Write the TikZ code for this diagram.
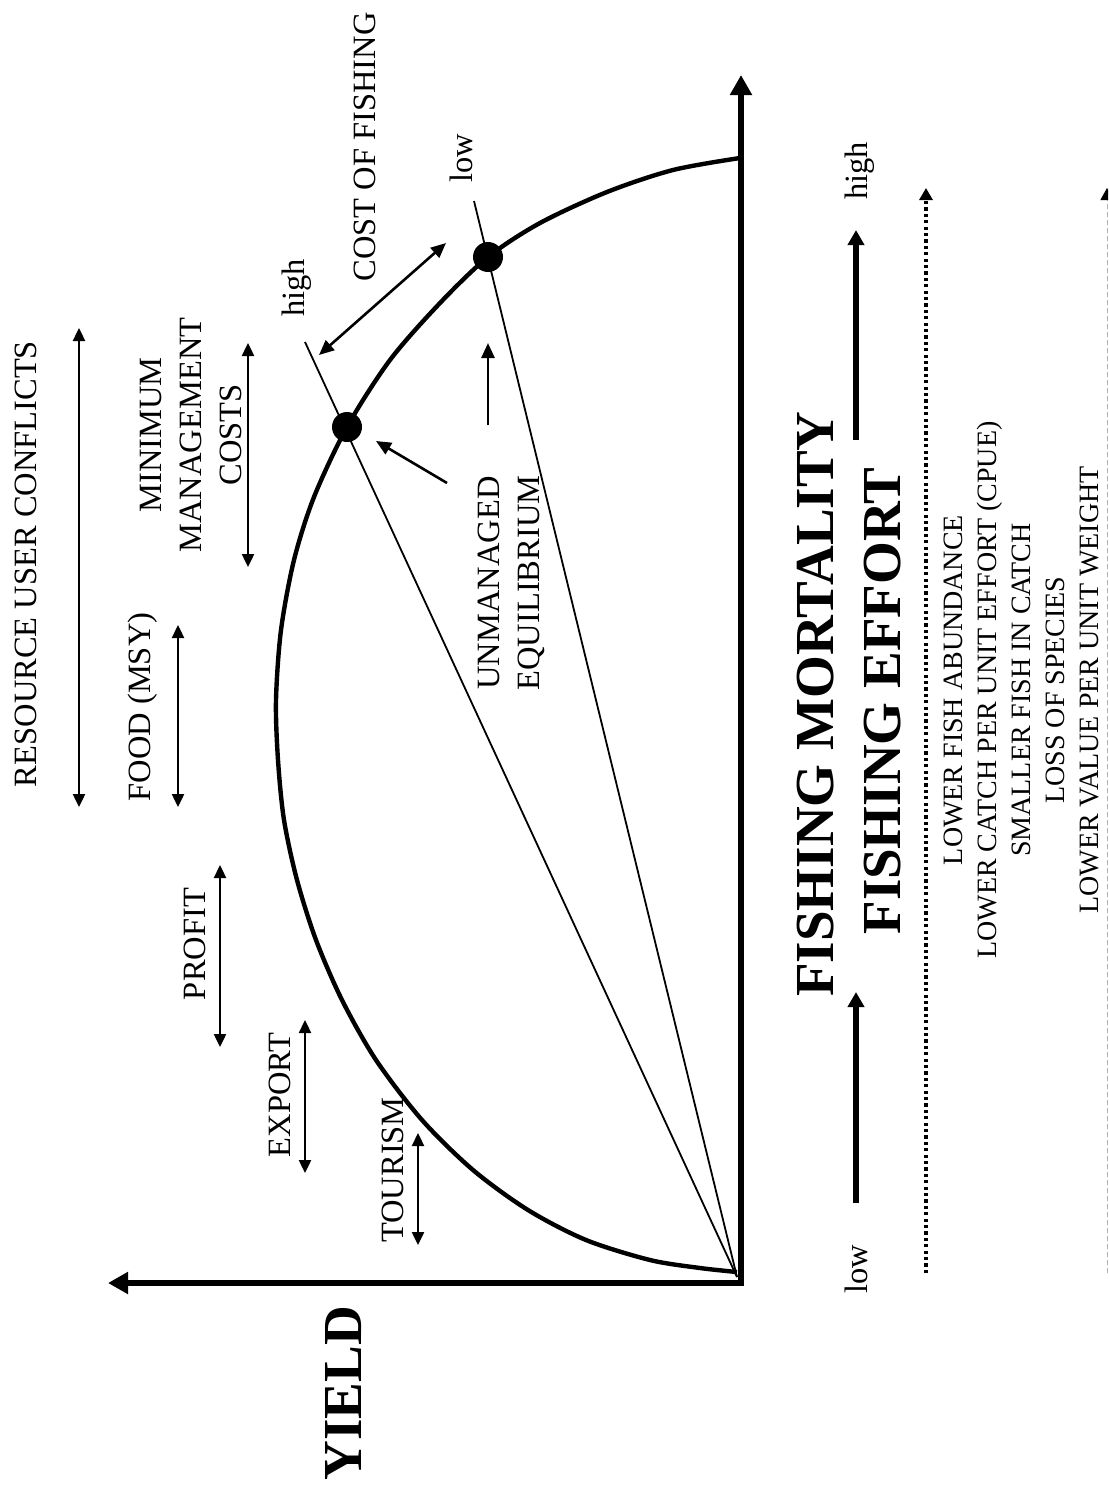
\documentclass[tikz,border=0pt]{standalone}
\usepackage{fontspec}
\setmainfont{Liberation Serif}
\usetikzlibrary{arrows.meta}

\begin{document}
\begin{tikzpicture}[
    x=0.5pt, y=-0.5pt,
    tag/.style={rotate=90, anchor=base, inner sep=0pt, font=\fontsize{16.25}{20}\selectfont},
    headline/.style={rotate=90, anchor=base, inner sep=0pt, font=\fontsize{27.5}{33}\selectfont\bfseries},
    effect/.style={rotate=90, anchor=base, inner sep=0pt, font=\fontsize{14}{17}\selectfont},
    axis/.style={<->, line width=3pt, >={Triangle[length=10pt, width=10.5pt]}},
    span/.style={<->, line width=1.2pt, >={Triangle[length=6.5pt, width=6pt]}},
    pointer/.style={->, line width=1.3pt, >={Triangle[length=7.5pt, width=6.5pt]}},
    trend/.style={->, line width=3pt, >={Triangle[length=7.5pt, width=8pt]}},
    eqpoint/.style={circle, fill, minimum size=15pt, inner sep=0pt}
]

\useasboundingbox (0,0) rectangle (1108,1488);
\clip (0,0) rectangle (1108,1488);

% Axes
\coordinate (origin) at (741,1283);
\coordinate (yieldtip) at (108,1283);
\coordinate (efforttip) at (741,75);
\draw[axis] (yieldtip) -- (origin) -- (efforttip);
\node[headline] (yield) at (361,1393) {YIELD};

% Yield curve
\draw[line width=2.2pt] plot[smooth] coordinates {
    (740,158) (673,170) (607,192) (540,223) (488,257) (440,303) (390,360)
    (347,427) (314,497) (294,560) (281,630) (276,700) (278,760) (284,820)
    (297,880) (316,940) (342,1000) (376,1060) (422,1120) (473,1170)
    (528,1210) (586,1240) (650,1260) (700,1268) (737,1272)};

% Cost lines and equilibria
\coordinate (rays) at (737,1277);
\coordinate (highend) at (305,342);
\coordinate (lowend) at (474,201);
\draw[line width=0.9pt] (rays) -- (highend);
\draw[line width=0.9pt] (rays) -- (lowend);
\node[eqpoint] (eqhigh) at (347,427) {};
\node[eqpoint] (eqlow) at (488,257) {};

\node[tag] (costhigh) at (304,288) {high};
\node[tag] (costlow) at (472,158) {low};
\node[tag] (cost) at (375,147) {COST OF FISHING};
\coordinate (cost-a) at (319,355);
\coordinate (cost-b) at (446,243);
\draw[pointer, <->] (cost-a) -- (cost-b);

% Unmanaged equilibrium
\node[tag, anchor=center, align=center] (unmanaged) at (511,583) {UNMANAGED\\EQUILIBRIUM};
\coordinate (unm-a) at (447,483);
\coordinate (unm-b) at (376,441);
\draw[pointer] (unm-a) -- (unm-b);
\coordinate (shift-a) at (488,425);
\coordinate (shift-b) at (488,343);
\draw[pointer] (shift-a) -- (shift-b);

% Management objectives
\node[tag] (conflicts) at (36,564) {RESOURCE USER CONFLICTS};
\coordinate (ruc-a) at (79,328);
\coordinate (ruc-b) at (79,807);
\draw[span] (ruc-a) -- (ruc-b);

\node[tag, anchor=center, align=center] (mgmt) at (191,435) {MINIMUM\\MANAGEMENT\\COSTS};
\coordinate (mgmt-a) at (248,343);
\coordinate (mgmt-b) at (248,567);
\draw[span] (mgmt-a) -- (mgmt-b);

\node[tag] (food) at (150,707) {FOOD (MSY)};
\coordinate (food-a) at (178,625);
\coordinate (food-b) at (178,807);
\draw[span] (food-a) -- (food-b);

\node[tag] (profit) at (205,944) {PROFIT};
\coordinate (profit-a) at (220,865);
\coordinate (profit-b) at (220,1047);
\draw[span] (profit-a) -- (profit-b);

\node[tag] (export) at (290,1095) {EXPORT};
\coordinate (export-a) at (305,1020);
\coordinate (export-b) at (305,1173);
\draw[span] (export-a) -- (export-b);

\node[tag] (tourism) at (403,1170) {TOURISM};
\coordinate (tourism-a) at (418,1133);
\coordinate (tourism-b) at (418,1245);
\draw[span] (tourism-a) -- (tourism-b);

% Fishing pressure
\node[headline] (mortality) at (833,704) {FISHING MORTALITY};
\node[headline] (fefort) at (900,701) {FISHING EFFORT};
\node[tag] (efflow) at (867,1269) {low};
\node[tag] (effhigh) at (867,171) {high};
\coordinate (up-a) at (856,1203);
\coordinate (up-b) at (856,992);
\draw[trend] (up-a) -- (up-b);
\coordinate (top-a) at (856,440);
\coordinate (top-b) at (856,230);
\draw[trend] (top-a) -- (top-b);

% Effects
\coordinate (dot-a) at (926,1273);
\coordinate (dot-b) at (926,188);
\draw[->, line width=1.6pt, dash pattern=on 1.6pt off 1.6pt,
    >={Triangle[length=6pt, width=6.5pt]}] (dot-a) -- (dot-b);
\foreach \txt [count=\i] in {LOWER FISH ABUNDANCE, LOWER CATCH PER UNIT EFFORT (CPUE),
    SMALLER FISH IN CATCH, LOSS OF SPECIES, LOWER VALUE PER UNIT WEIGHT}
    \node[effect] (effect\i) at (928+34*\i,690) {\txt};
\coordinate (dash-a) at (1107,1273);
\coordinate (dash-b) at (1107,188);
\draw[->, line width=0.5pt, gray!60, dash pattern=on 2.5pt off 1.5pt,
    >={Triangle[length=6pt, width=6.5pt, color=black]}] (dash-a) -- (dash-b);

\end{tikzpicture}
\end{document}
